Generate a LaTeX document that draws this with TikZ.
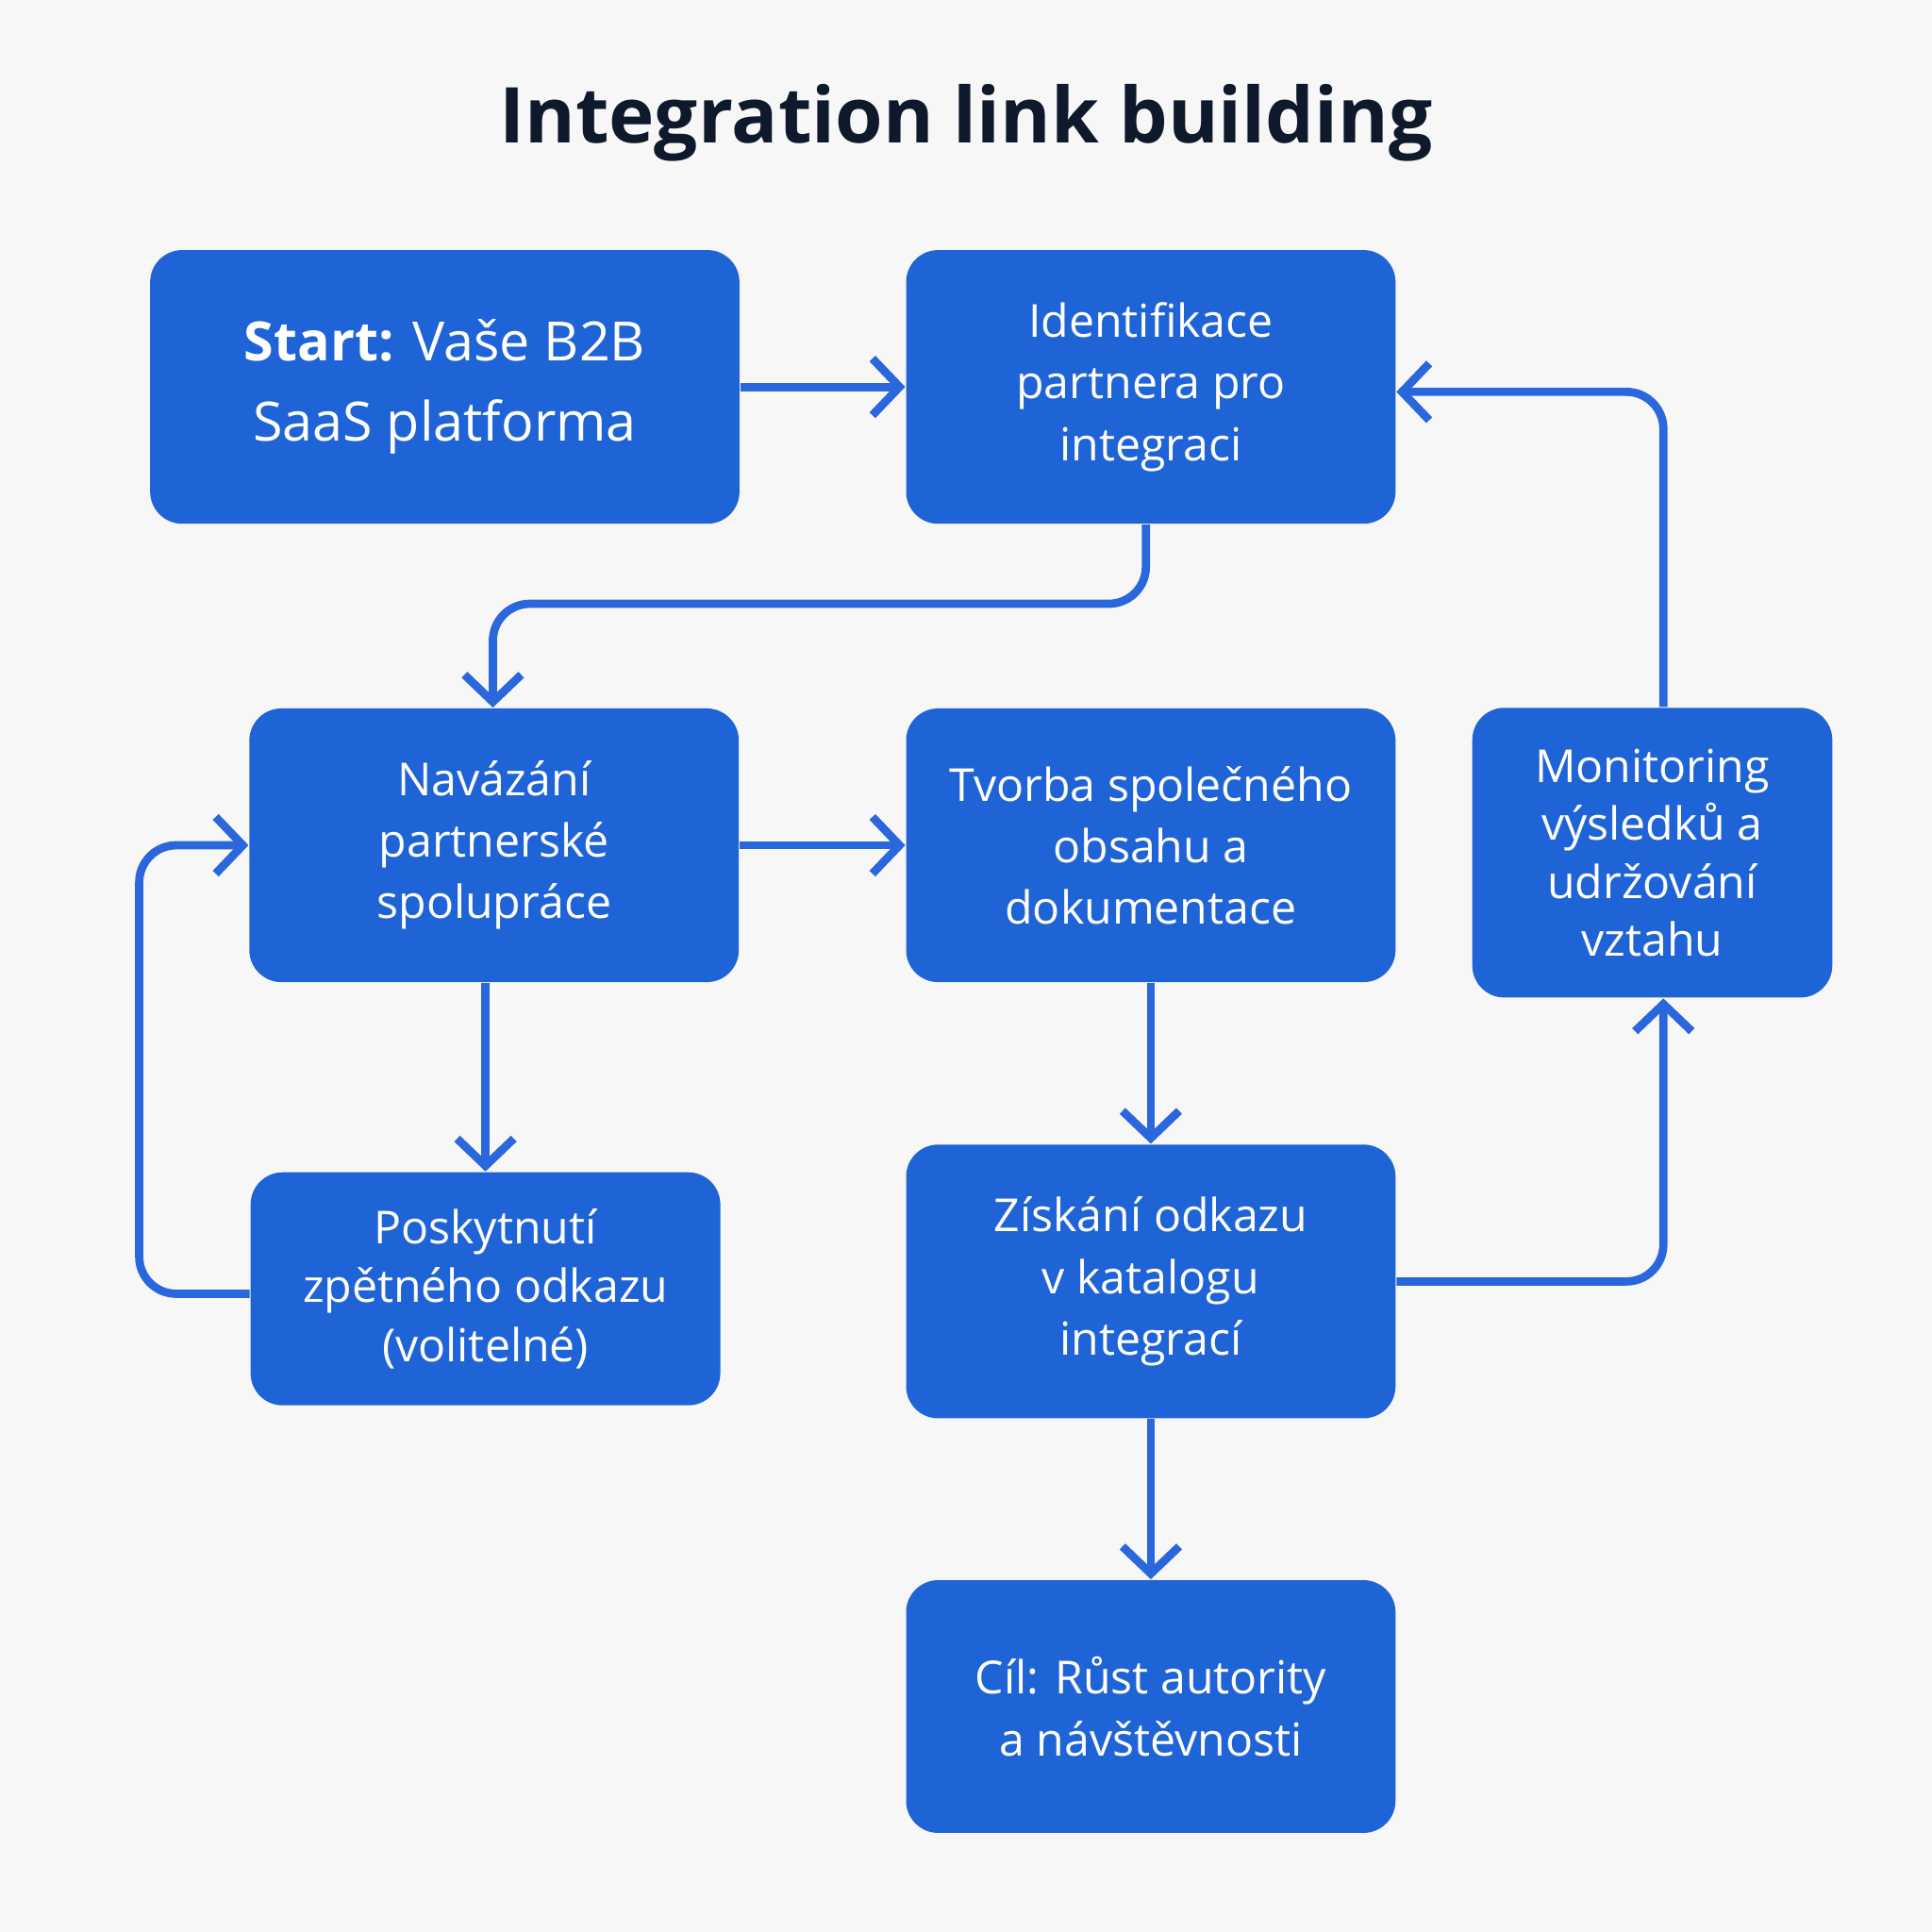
\documentclass[tikz,border=0pt]{standalone}
\usepackage{fontspec}
\setmainfont{Open Sans}
\usetikzlibrary{arrows.meta}

\definecolor{boxblue}{HTML}{1F64D6}
\definecolor{lineblue}{HTML}{2A66DC}
\definecolor{titleink}{HTML}{0E1A2B}

\begin{document}
\begin{tikzpicture}[x=0.01cm,y=-0.01cm,
  stage/.style={rectangle,rounded corners=0.26cm,fill=boxblue,text=white,align=center,
    font=\fontsize{10.5pt}{14.2pt}\selectfont,inner sep=0pt},
  flow/.style={draw=lineblue,line width=1.9pt,rounded corners=0.3cm,
    -{Straight Barb[length=0.22cm,width=0.46cm,line width=1.9pt]}}]
\fill[white!97!black] (0,0) rectangle (1568,1568);
\useasboundingbox (0,0) rectangle (1568,1568);

\node[font=\bfseries\fontsize{17.8pt}{20pt}\selectfont,text=titleink] (title) at (784,100) {Integration link building};

\node[stage,minimum width=4.78cm,minimum height=2.22cm,font=\fontsize{12.5pt}{18.5pt}\selectfont] (start) at (361,314) {\textbf{Start:} Vaše B2B\\SaaS platforma};
\node[stage,minimum width=3.97cm,minimum height=2.22cm] (ident) at (934,314) {Identifikace\\partnera pro\\integraci};
\node[stage,minimum width=3.97cm,minimum height=2.22cm] (navaz) at (401,686) {Navázání\\partnerské\\spolupráce};
\node[stage,minimum width=3.97cm,minimum height=2.22cm] (tvorba) at (934,686) {Tvorba společného\\obsahu a\\dokumentace};
\node[stage,minimum width=2.92cm,minimum height=2.35cm,font=\fontsize{10.5pt}{13.4pt}\selectfont] (monit) at (1341,692) {Monitoring\\výsledků a\\udržování\\vztahu};
\node[stage,minimum width=3.81cm,minimum height=1.89cm,font=\fontsize{10.5pt}{13.6pt}\selectfont] (posk) at (394,1046) {Poskytnutí\\zpětného odkazu\\(volitelné)};
\node[stage,minimum width=3.97cm,minimum height=2.22cm] (ziskani) at (934,1040) {Získání odkazu\\v katalogu\\integrací};
\node[stage,minimum width=3.97cm,minimum height=2.05cm] (cil) at (934,1385) {Cíl: Růst autority\\a návštěvnosti};

\coordinate (c1) at (930,490);
\coordinate (c2) at (400,490);
\coordinate (c3) at (113,1050);
\coordinate (c4) at (113,686);
\coordinate (c5) at (1350,1040);
\coordinate (c6) at (1350,318);

\draw[flow] (start.east |- 0,314) -- (ident.west |- 0,314);
\draw[flow] (ident.south -| c1) -- (c1) -- (c2) -- (navaz.north -| c2);
\draw[flow] (navaz) -- (tvorba);
\draw[flow] (navaz.south -| posk) -- (posk.north);
\draw[flow] (posk.west |- c3) -- (c3) -- (c4) -- (navaz.west);
\draw[flow] (tvorba) -- (ziskani);
\draw[flow] (ziskani) -- (cil);
\draw[flow] (ziskani.east) -- (c5) -- (monit.south -| c5);
\draw[flow] (monit.north -| c6) -- (c6) -- (ident.east |- c6);
\end{tikzpicture}
\end{document}
